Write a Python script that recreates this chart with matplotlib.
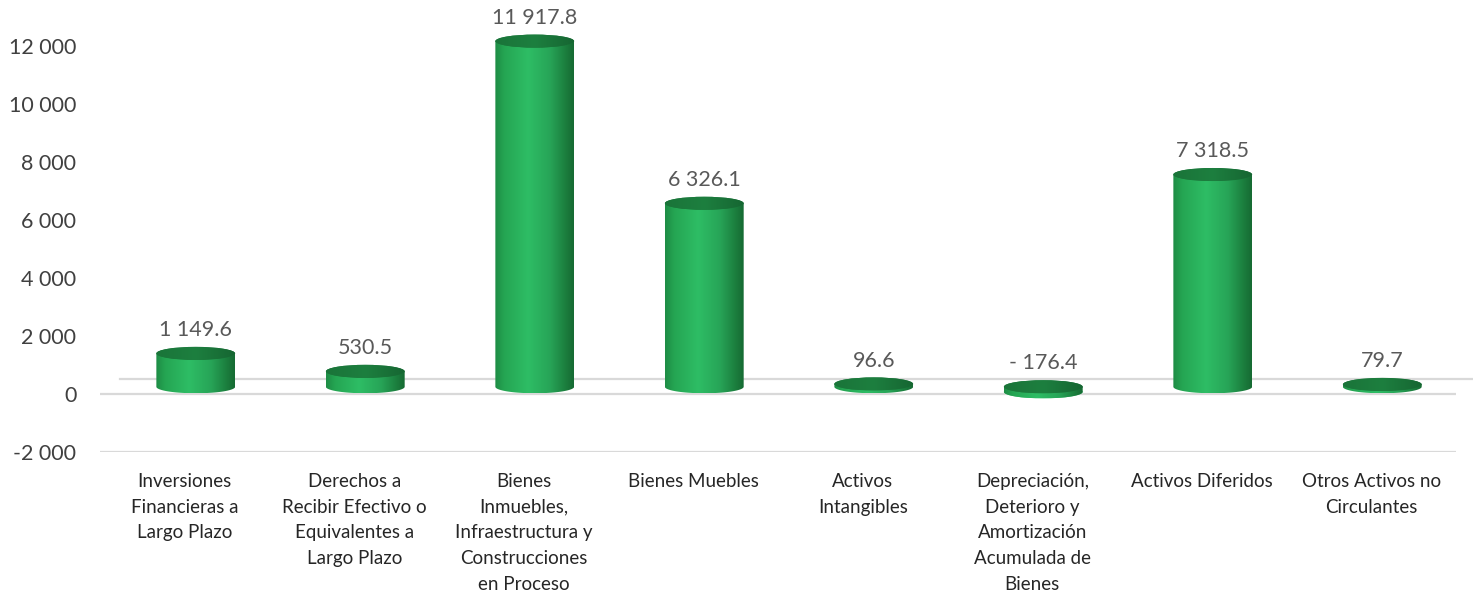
import numpy as np
import matplotlib
matplotlib.use("Agg")
import matplotlib.pyplot as plt
from matplotlib.patches import Ellipse, Polygon
from matplotlib.colors import LinearSegmentedColormap

categories = [
    "Inversiones\nFinancieras a\nLargo Plazo",
    "Derechos a\nRecibir Efectivo o\nEquivalentes a\nLargo Plazo",
    "Bienes\nInmuebles,\nInfraestructura y\nConstrucciones\nen Proceso",
    "Bienes Muebles",
    "Activos\nIntangibles",
    "Depreciación,\nDeterioro y\nAmortización\nAcumulada de\nBienes",
    "Activos Diferidos",
    "Otros Activos no\nCirculantes",
]
values = [1149.6, 530.5, 11917.8, 6326.1, 96.6, -176.4, 7318.5, 79.7]
value_labels = ["1 149.6", "530.5", "11 917.8", "6 326.1", "96.6", "- 176.4", "7 318.5", "79.7"]
yticks = [-2000, 0, 2000, 4000, 6000, 8000, 10000, 12000]
ytick_labels = ["-2 000", "0", "2 000", "4 000", "6 000", "8 000", "10 000", "12 000"]

plt.rcParams['font.family'] = ['Lato', 'DejaVu Sans']

fig = plt.figure(figsize=(14.73, 5.92), dpi=100)
ax = fig.add_axes([100/1473, (592-452)/592, 1356/1473, (452-2.5)/592])
ax.set_xlim(-0.5, 7.5)
ax.set_ylim(-2000, 13500)

grid_c = "#d9d9d9"
ax.axhline(0, color=grid_c, lw=1.6, zorder=1)
ax.axhline(-2000, color=grid_c, lw=1.6, zorder=1)
# back floor line (3D depth)
ax.plot([-0.38, 7.62], [517, 517], color=grid_c, lw=1.6, zorder=1, clip_on=False)

body_cmap = LinearSegmentedColormap.from_list(
    "cyl", [(0.0, "#1e8c45"), (0.12, "#25a653"), (0.42, "#2ebd65"),
            (0.7, "#27a457"), (0.9, "#1b7d3d"), (1.0, "#166a33")])
top_cmap = LinearSegmentedColormap.from_list(
    "top", [(0.0, "#1a7439"), (0.5, "#1d7f3f"), (1.0, "#166632")])

dx = 0.065      # 3D offset to the right
base = 250.0    # 3D offset up
w = 0.465       # cylinder width (data units)
eh = 450.0      # ellipse height (data units)

grad = np.linspace(0, 1, 256).reshape(1, -1)

for i, v in enumerate(values):
    cx = i + dx
    x0, x1 = cx - w/2, cx + w/2
    lo, hi = (base, base + v) if v >= 0 else (base + v, base)
    t = np.linspace(0, np.pi, 60)
    bx = cx + (w/2) * np.cos(t)
    by = lo - (eh/2) * np.sin(t)
    poly = Polygon([(x0, hi), (x1, hi)] + list(zip(bx, by)), closed=True,
                   transform=ax.transData, facecolor="none", edgecolor="none")
    ax.add_patch(poly)
    im = ax.imshow(grad, cmap=body_cmap, aspect="auto",
                   extent=[x0, x1, lo - eh/2, hi], zorder=3,
                   interpolation="bicubic")
    im.set_clip_path(poly)
    if v < 0:
        rim = Ellipse((cx, lo), w, eh, facecolor="#3cc873", edgecolor="none", zorder=2.9)
        ax.add_patch(rim)
    top = Ellipse((cx, hi), w, eh, facecolor="#1c7b3d", edgecolor="none", zorder=4)
    ax.add_patch(top)
    topim = ax.imshow(grad, cmap=top_cmap, aspect="auto",
                      extent=[x0, x1, hi - eh/2, hi + eh/2], zorder=4.1,
                      interpolation="bicubic")
    topim.set_clip_path(top)
    ax.annotate(value_labels[i], xy=(cx, max(v, 0)), xytext=(0, 22),
                textcoords="offset points", ha="center", va="center",
                fontsize=15.5, color="#595959", annotation_clip=False, zorder=5)

ax.set_xlim(-0.5, 7.5)
ax.set_ylim(-2000, 13500)

ax.set_yticks(yticks)
ax.set_yticklabels(ytick_labels, fontsize=15.5, color="#404040")
ax.set_xticks(range(len(categories)))
ax.set_xticklabels(categories, fontsize=13.5, color="#262626", linespacing=1.62, va="top")
ax.tick_params(axis="both", length=0)
ax.tick_params(axis="y", pad=17)
ax.tick_params(axis="x", pad=15)
for s in ax.spines.values():
    s.set_visible(False)

fig.savefig("out.png", dpi=100)
